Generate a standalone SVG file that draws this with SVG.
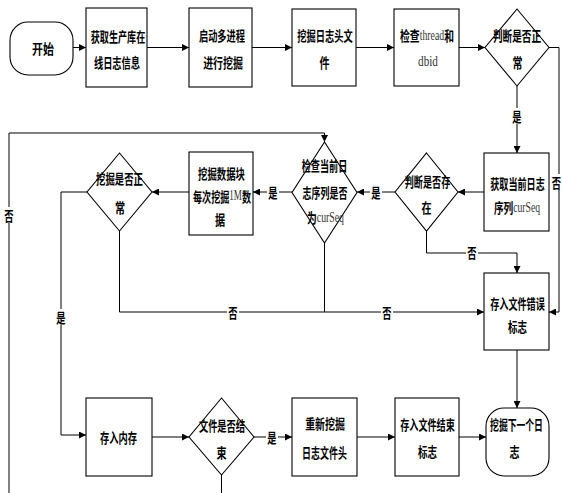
<svg xmlns="http://www.w3.org/2000/svg" width="562" height="493" viewBox="0 0 562 493">
<defs>
<marker id="ah" markerWidth="7" markerHeight="7" refX="7" refY="3.5" orient="auto" markerUnits="userSpaceOnUse">
<path d="M0,0 L7,3.5 L0,7 z" fill="#000"/>
</marker>
<style>
.s{fill:#fff;stroke:#000;stroke-width:1.1}
.c{fill:none;stroke:#000;stroke-width:1}
.t{font-family:"Noto Sans CJK SC","DejaVu Sans",sans-serif;font-weight:bold;font-size:14px;text-anchor:middle;dominant-baseline:central;fill:#000}
.e{font-family:"Liberation Serif",serif;font-weight:normal;fill:#333}
.lb{fill:#fff}
</style>
</defs>
<rect width="562" height="493" fill="#fff"/>

<g id="connectors">
<path class="c" d="M73,47.5 L86,47.5" marker-end="url(#ah)"/>
<path class="c" d="M147,47.5 L189,47.5" marker-end="url(#ah)"/>
<path class="c" d="M252,47.5 L292,47.5" marker-end="url(#ah)"/>
<path class="c" d="M356,47.5 L394,47.5" marker-end="url(#ah)"/>
<path class="c" d="M459,47.5 L485,47.5" marker-end="url(#ah)"/>
<path class="c" d="M549,47.5 L559,47.5 L559,312 L549,312" marker-end="url(#ah)"/>
<path class="c" d="M517,86 L517,153" marker-end="url(#ah)"/>
<path class="c" d="M484,192 L458,192" marker-end="url(#ah)"/>
<path class="c" d="M395,192 L357,192" marker-end="url(#ah)"/>
<path class="c" d="M292,192 L253,192" marker-end="url(#ah)"/>
<path class="c" d="M189,192 L152,192" marker-end="url(#ah)"/>
<path class="c" d="M426.5,231 L426.5,253 L517,253 L517,273" marker-end="url(#ah)"/>
<path class="c" d="M119.5,231 L119.5,312 L484,312" marker-end="url(#ah)"/>
<path class="c" d="M324.5,243 L324.5,312"/>
<path class="c" d="M87,192 L61,192 L61,435 L86,435" marker-end="url(#ah)"/>
<path class="c" d="M9,493 L9,133 L324.5,133 L324.5,142" marker-end="url(#ah)"/>
<path class="c" d="M517,350 L517,408" marker-end="url(#ah)"/>
<path class="c" d="M152,437 L189,437" marker-end="url(#ah)"/>
<path class="c" d="M254,437 L292,437" marker-end="url(#ah)"/>
<path class="c" d="M357,437 L395,437" marker-end="url(#ah)"/>
<path class="c" d="M459,437 L486,437" marker-end="url(#ah)"/>
<path class="c" d="M221.5,475 L221.5,493"/>
<rect class="lb" x="511" y="108" width="12" height="16"/><text class="t" transform="translate(517,116) scale(0.66,1)">是</text>
<rect class="lb" x="552" y="174" width="10" height="16"/><text class="t" transform="translate(556.5,182) scale(0.66,1)">否</text>
<rect class="lb" x="370" y="185" width="12" height="14"/><text class="t" transform="translate(376,192) scale(0.66,1)">是</text>
<rect class="lb" x="267" y="185" width="12" height="14"/><text class="t" transform="translate(273,192) scale(0.66,1)">是</text>
<rect class="lb" x="466" y="246" width="12" height="14"/><text class="t" transform="translate(472,252) scale(0.66,1)">否</text>
<rect class="lb" x="3" y="207" width="12" height="16"/><text class="t" transform="translate(9,215) scale(0.66,1)">否</text>
<rect class="lb" x="55" y="309" width="12" height="16"/><text class="t" transform="translate(61,317) scale(0.66,1)">是</text>
<rect class="lb" x="227" y="305" width="12" height="14"/><text class="t" transform="translate(233,312) scale(0.66,1)">否</text>
<rect class="lb" x="381" y="305" width="12" height="14"/><text class="t" transform="translate(387,312) scale(0.66,1)">否</text>
<rect class="lb" x="266" y="430" width="12" height="14"/><text class="t" transform="translate(272,437) scale(0.66,1)">是</text>
</g>

<g id="start">
<rect class="s" x="10" y="22" width="63" height="53" rx="18" ry="18"/>
<text class="t" transform="translate(43,48) scale(0.78,1)">开始</text>
</g>
<g id="n1">
<rect class="s" x="86" y="8" width="61" height="79"/>
<text class="t" transform="translate(118,35) scale(0.65,1)">获取生产库在</text>
<text class="t" transform="translate(117,62) scale(0.66,1)">线日志信息</text>
</g>
<g id="n2">
<rect class="s" x="189" y="8" width="63" height="79"/>
<text class="t" transform="translate(222,35) scale(0.66,1)">启动多进程</text>
<text class="t" transform="translate(223,62) scale(0.71,1)">进行挖掘</text>
</g>
<g id="n3">
<rect class="s" x="292" y="9" width="64" height="77"/>
<text class="t" transform="translate(325,35) scale(0.66,1)">挖掘日志头文</text>
<text class="t" transform="translate(324.5,62) scale(0.72,1)">件</text>
</g>
<g id="n4">
<rect class="s" x="394" y="9" width="65" height="77"/>
<text class="t" transform="translate(427,35) scale(0.70,1)">检查<tspan class="e">thread</tspan>和</text>
<text class="t" transform="translate(428,62) scale(0.8,1)"><tspan class="e">dbid</tspan></text>
</g>
<g id="d1">
<polygon class="s" points="517,9 549,47.5 517,86 485,47.5"/>
<text class="t" transform="translate(517,35) scale(0.69,1)">判断是否正</text>
<text class="t" transform="translate(517.5,62) scale(0.72,1)">常</text>
</g>
<g id="n5">
<rect class="s" x="484" y="153" width="65" height="78"/>
<text class="t" transform="translate(517.5,182) scale(0.65,1)">获取当前日志</text>
<text class="t" transform="translate(517,207) scale(0.69,1)">序列<tspan class="e">curSeq</tspan></text>
</g>
<g id="d2">
<polygon class="s" points="426.5,153 458,192 426.5,231 395,192"/>
<text class="t" transform="translate(427.5,180) scale(0.65,1)">判断是否存</text>
<text class="t" transform="translate(426.5,207) scale(0.72,1)">在</text>
</g>
<g id="d3">
<polygon class="s" points="324.5,142 357,192.5 324.5,243 292,192.5"/>
<text class="t" transform="translate(324.5,164) scale(0.65,1)">检查当前日</text>
<text class="t" transform="translate(325,191) scale(0.64,1)">志序列是否</text>
<text class="t" transform="translate(325.5,217) scale(0.70,1)">为<tspan class="e">curSeq</tspan></text>
</g>
<g id="n6">
<rect class="s" x="189" y="152" width="64" height="83"/>
<text class="t" transform="translate(221.5,173) scale(0.67,1)">挖掘数据块</text>
<text class="t" transform="translate(222,195) scale(0.65,1)">每次挖掘<tspan class="e">1M</tspan>数</text>
<text class="t" transform="translate(220,219) scale(0.72,1)">据</text>
</g>
<g id="d4">
<polygon class="s" points="119.5,153 152,192 119.5,231 87,192"/>
<text class="t" transform="translate(119.5,178) scale(0.67,1)">挖掘是否正</text>
<text class="t" transform="translate(120,207) scale(0.72,1)">常</text>
</g>
<g id="n7">
<rect class="s" x="484" y="273" width="65" height="77"/>
<text class="t" transform="translate(517.5,302) scale(0.65,1)">存入文件错误</text>
<text class="t" transform="translate(517.5,326) scale(0.68,1)">标志</text>
</g>
<g id="end">
<rect class="s" x="486" y="408" width="63" height="68" rx="18" ry="18"/>
<text class="t" transform="translate(516.5,423) scale(0.63,1)">挖掘下一个日</text>
<text class="t" transform="translate(514.5,451) scale(0.72,1)">志</text>
</g>
<g id="n8">
<rect class="s" x="86" y="398" width="66" height="78"/>
<text class="t" transform="translate(118.5,437) scale(0.66,1)">存入内存</text>
</g>
<g id="d5">
<polygon class="s" points="221.5,398 254,437 221.5,475 189,437"/>
<text class="t" transform="translate(222,425) scale(0.66,1)">文件是否结</text>
<text class="t" transform="translate(221.5,452) scale(0.72,1)">束</text>
</g>
<g id="n9">
<rect class="s" x="292" y="398" width="65" height="78"/>
<text class="t" transform="translate(325,423) scale(0.71,1)">重新挖掘</text>
<text class="t" transform="translate(324.5,451) scale(0.64,1)">日志文件头</text>
</g>
<g id="n10">
<rect class="s" x="395" y="398" width="64" height="78"/>
<text class="t" transform="translate(427.5,423) scale(0.65,1)">存入文件结束</text>
<text class="t" transform="translate(427.5,451) scale(0.68,1)">标志</text>
</g>
</svg>
